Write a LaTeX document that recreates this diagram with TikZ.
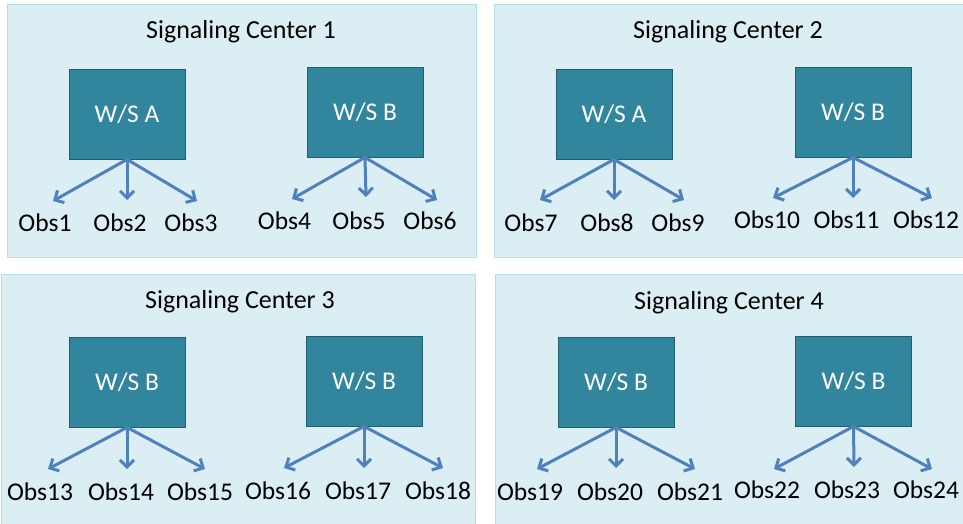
\documentclass[tikz,border=0pt]{standalone}
\usepackage{fontspec}
\setmainfont{Carlito}
\usetikzlibrary{arrows.meta}
\definecolor{panelfill}{HTML}{DAEEF3}
\definecolor{paneldraw}{HTML}{B7DDE8}
\definecolor{wsfill}{HTML}{31859C}
\definecolor{wsdraw}{HTML}{215E6E}
\definecolor{arrowblue}{HTML}{4F81BD}
\tikzset{
  panel/.style={draw=paneldraw,fill=panelfill,line width=1pt},
  centertitle/.style={anchor=base,inner sep=0pt,font=\fontsize{26}{31}\selectfont},
  ws/.style={draw=wsdraw,fill=wsfill,line width=0.8pt,minimum width=116pt,minimum height=90pt,
    inner sep=0pt,text=white,font=\fontsize{25.5}{30}\selectfont},
  obs/.style={anchor=base,inner sep=0pt,font=\fontsize{25.5}{30}\selectfont},
  link/.style={draw=arrowblue,line width=3pt,-{Straight Barb[length=7pt,width=14pt]}}
}
\begin{document}
\begin{tikzpicture}[x=1pt,y=-1pt]
\useasboundingbox (0,0) rectangle (963,524);

% signaling centers
\path[panel] (7,5) rectangle (476,257);
\path[panel] (494,5) rectangle (963,257);
\path[panel] (1,274) rectangle (475,524);
\path[panel] (495,274) rectangle (963,524);
\node[centertitle] (sc1) at (241,39) {Signaling Center 1};
\node[centertitle] (sc2) at (728,39) {Signaling Center 2};
\node[centertitle] (sc3) at (240,308) {Signaling Center 3};
\node[centertitle] (sc4) at (729,309) {Signaling Center 4};

% workstations
\node[ws] (ws1) at (127,114) {W/S A};
\node[ws] (ws2) at (365,112) {W/S B};
\node[ws] (ws3) at (614,114) {W/S A};
\node[ws] (ws4) at (853,112) {W/S B};
\node[ws] (ws5) at (127,382) {W/S B};
\node[ws] (ws6) at (364,381) {W/S B};
\node[ws] (ws7) at (616,382) {W/S B};
\node[ws] (ws8) at (853.5,381) {W/S B};

% observers
\foreach \n/\x/\y in {1/45/231, 2/120/231, 3/191/231, 4/284.5/229.5, 5/359/229.5, 6/430/229.5,
  7/531/231, 8/607/231, 9/678/231, 10/767/228, 11/846.5/228, 12/926/228,
  13/40/500, 14/121/500, 15/200/500, 16/278/499.5, 17/358/499.5, 18/438/499.5,
  19/530/500, 20/610/500, 21/690/500, 22/767/498.5, 23/847/498.5, 24/926/498.5}
  \node[obs] (obs\n) at (\x,\y) {Obs\n};

% arrow tips
\foreach \n/\x/\y in {1/53/201, 2/127/200, 3/197/201, 4/292/199, 5/366/197, 6/437/200,
  7/540/200, 8/614/200, 9/684/200, 10/773/198, 11/853/198, 12/932/198,
  13/48/469, 14/127/469, 15/205/469, 16/284/468, 17/364/468, 18/443/468,
  19/537/469, 20/616/468, 21/695/469, 22/774/469, 23/854/467, 24/932/469}
  \coordinate (tip\n) at (\x,\y);

\foreach \w/\a in {1/1, 2/4, 3/7, 4/10, 5/13, 6/16, 7/19, 8/22}
  \foreach \k in {0,1,2}{
    \pgfmathtruncatemacro\t{\a+\k}
    \draw[link] (ws\w.south) -- (tip\t);
  }
\end{tikzpicture}
\end{document}
